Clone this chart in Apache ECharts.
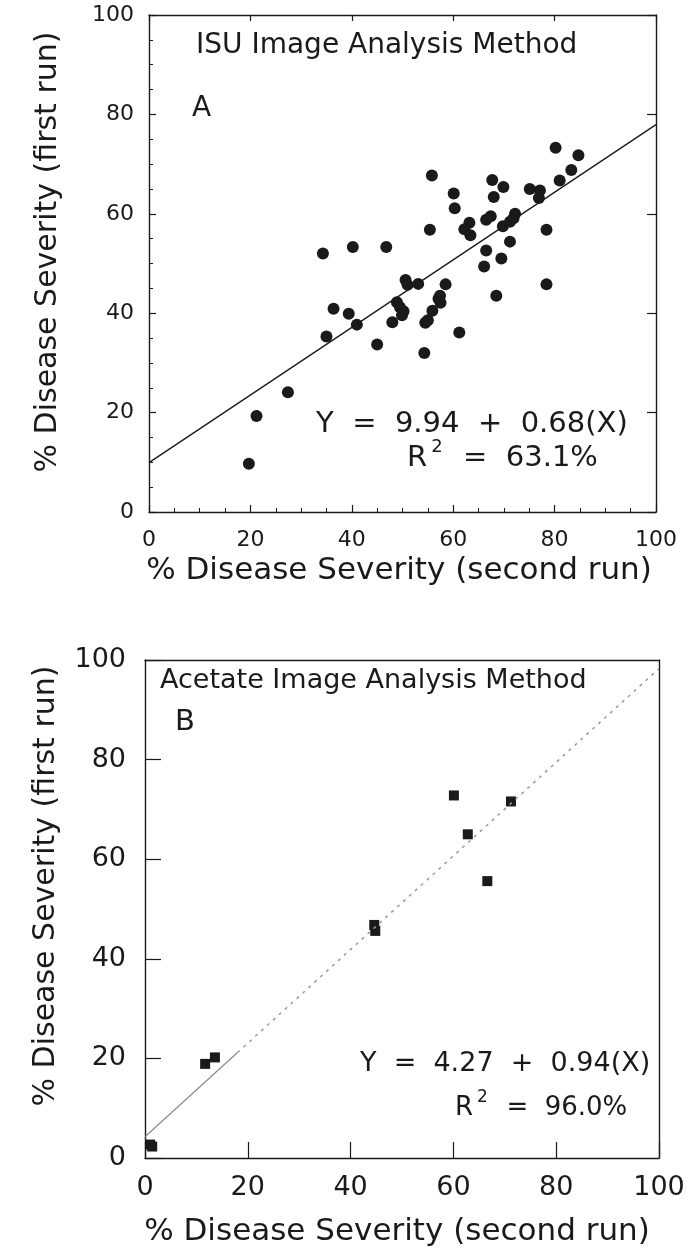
<!DOCTYPE html>
<html>
<head>
<meta charset="utf-8">
<script src="https://cdn.jsdelivr.net/npm/echarts@6/dist/echarts.min.js"></script>
<style>
  html, body { margin: 0; padding: 0; background: #fff; }
  #chart { width: 691px; height: 1259px; }
</style>
</head>
<body>
<div id="chart"></div>
<script>
// panel A: ISU image analysis, [second run, first run]
var isuPoints = [
  [19.7, 9.7], [21.2, 19.3], [27.4, 24.1], [34.3, 52.0], [35.0, 35.3],
  [36.4, 40.9], [39.4, 39.9], [40.2, 53.3], [41.0, 37.7], [45.0, 33.7],
  [46.8, 53.3], [48.0, 38.2], [48.9, 42.2], [49.5, 41.2], [49.9, 39.6],
  [50.2, 40.4], [50.6, 46.7], [51.0, 45.7], [53.1, 45.9], [54.3, 32.0],
  [54.5, 38.1], [55.0, 38.6], [55.4, 56.8], [55.8, 67.7], [55.9, 40.5],
  [57.1, 42.9], [57.4, 43.5], [57.5, 42.1], [58.5, 45.8], [60.1, 64.1],
  [60.3, 61.1], [61.2, 36.1], [62.2, 56.9], [63.2, 58.2], [63.4, 55.7],
  [66.1, 49.4], [66.5, 52.6], [66.5, 58.8], [67.4, 59.5], [67.7, 66.8],
  [68.0, 63.4], [68.5, 43.5], [69.5, 51.0], [69.8, 57.5], [69.9, 65.4],
  [71.2, 54.4], [71.2, 58.4], [71.9, 59.1], [72.2, 60.0], [75.1, 65.0],
  [77.1, 64.7], [76.9, 63.2], [78.4, 56.8], [78.4, 45.8], [80.2, 73.3],
  [81.0, 66.7], [83.3, 68.8], [84.7, 71.8]
];
var isuFit = [[0, 9.94], [100, 77.94]];

// panel B: acetate image analysis
var acetatePoints = [
  [1.0, 2.7], [1.4, 2.3], [11.7, 18.9], [13.6, 20.2], [44.6, 46.8],
  [44.8, 45.6], [60.1, 72.8], [62.8, 65.0], [66.6, 55.6], [71.2, 71.6]
];
var acetateFitSolid = [[0, 4.27], [18, 21.19]];
var acetateFitDotted = [[18, 21.19], [100, 98.27]];

var axisTicks = [0, 20, 40, 60, 80, 100];

var FONT = 'DejaVu Sans';
var INK = '#1a1a1a';

var myChart = echarts.init(document.getElementById('chart'));

function valAxis(grid, pos, opts) {
  var ax = {
    type: 'value',
    gridIndex: grid,
    position: pos,
    min: axisTicks[0],
    max: axisTicks[axisTicks.length - 1],
    interval: 20,
    splitLine: { show: false },
    axisLine: { show: true, onZero: false, lineStyle: { color: INK, width: 1.4 } },
    axisTick: { show: true, inside: true, length: opts.tick || 0, lineStyle: { color: INK, width: 1.2 } },
    axisLabel: opts.label ? {
      show: true, fontFamily: FONT, fontSize: opts.label, color: INK, margin: opts.margin
    } : { show: false }
  };
  if (opts.tick === 0) ax.axisTick.show = false;
  if (opts.minor) {
    ax.minorTick = { show: true, splitNumber: 4, length: opts.minor, lineStyle: { color: INK, width: 1 } };
  }
  return ax;
}

var option = {
  backgroundColor: '#fff',
  animation: false,
  grid: [
    { left: 149, top: 15, width: 507, height: 497 },
    { left: 145, top: 660, width: 514, height: 498 }
  ],
  xAxis: [
    valAxis(0, 'bottom', { tick: 7, minor: 4, label: 22, margin: 17 }),
    valAxis(0, 'top', { tick: 6 }),
    valAxis(1, 'bottom', { tick: 16, label: 27, margin: 16 }),
    valAxis(1, 'top', { tick: 0 })
  ],
  yAxis: [
    valAxis(0, 'left', { tick: 7, minor: 4, label: 22, margin: 15 }),
    valAxis(0, 'right', { tick: 9 }),
    valAxis(1, 'left', { tick: 16, label: 27, margin: 19 }),
    valAxis(1, 'right', { tick: 0 })
  ],
  series: [
    {
      type: 'line', xAxisIndex: 0, yAxisIndex: 0, data: isuFit,
      showSymbol: false, lineStyle: { color: INK, width: 1.4 }
    },
    {
      type: 'scatter', xAxisIndex: 0, yAxisIndex: 0, data: isuPoints,
      symbol: 'circle', symbolSize: 12, itemStyle: { color: INK, opacity: 1 }
    },
    {
      type: 'line', xAxisIndex: 2, yAxisIndex: 2, data: acetateFitSolid,
      showSymbol: false, lineStyle: { color: '#8a8a8a', width: 1.2 }
    },
    {
      type: 'line', xAxisIndex: 2, yAxisIndex: 2, data: acetateFitDotted,
      showSymbol: false, lineStyle: { color: '#999999', width: 1.5, type: [3, 5] }
    },
    {
      type: 'scatter', xAxisIndex: 2, yAxisIndex: 2, data: acetatePoints,
      symbol: 'rect', symbolSize: 10, itemStyle: { color: INK, opacity: 1 }
    }
  ],
  graphic: [
    // axis names
    { type: 'text', x: 399, y: 571, style: { text: '% Disease Severity (second run)', font: '31px "DejaVu Sans"', fill: INK, align: 'center', verticalAlign: 'middle' } },
    { type: 'text', x: 48, y: 252, rotation: Math.PI / 2, style: { text: '% Disease Severity (first run)', font: '30px "DejaVu Sans"', fill: INK, align: 'center', verticalAlign: 'middle' } },
    { type: 'text', x: 397, y: 1232, style: { text: '% Disease Severity (second run)', font: '31px "DejaVu Sans"', fill: INK, align: 'center', verticalAlign: 'middle' } },
    { type: 'text', x: 46, y: 886, rotation: Math.PI / 2, style: { text: '% Disease Severity (first run)', font: '30px "DejaVu Sans"', fill: INK, align: 'center', verticalAlign: 'middle' } },
    // panel A annotations
    { type: 'text', x: 196, y: 46, style: { text: 'ISU Image Analysis Method', font: '28px "DejaVu Sans"', fill: INK, align: 'left', verticalAlign: 'middle' } },
    { type: 'text', x: 192, y: 109, style: { text: 'A', font: '28px "DejaVu Sans"', fill: INK, align: 'left', verticalAlign: 'middle' } },
    { type: 'text', x: 316, y: 424, style: { text: 'Y  =  9.94  +  0.68(X)', font: '29px "DejaVu Sans"', fill: INK, align: 'left', verticalAlign: 'middle' } },
    { type: 'text', x: 407, y: 458, style: {
        text: '{r|R}{s|2}{r|  =  63.1%}', fill: INK, align: 'left', verticalAlign: 'middle',
        rich: { r: { fontFamily: FONT, fontSize: 29, fill: INK }, s: { fontFamily: FONT, fontSize: 18, fill: INK, padding: [0, 2, 22, 4] } }
    } },
    // panel B annotations
    { type: 'text', x: 160, y: 681, style: { text: 'Acetate Image Analysis Method', font: '27px "DejaVu Sans"', fill: INK, align: 'left', verticalAlign: 'middle' } },
    { type: 'text', x: 175, y: 722, style: { text: 'B', font: '29px "DejaVu Sans"', fill: INK, align: 'left', verticalAlign: 'middle' } },
    { type: 'text', x: 360, y: 1064, style: { text: 'Y  =  4.27  +  0.94(X)', font: '27px "DejaVu Sans"', fill: INK, align: 'left', verticalAlign: 'middle' } },
    { type: 'text', x: 455, y: 1108, style: {
        text: '{r|R}{s|2}{r|  =  96.0%}', fill: INK, align: 'left', verticalAlign: 'middle',
        rich: { r: { fontFamily: FONT, fontSize: 26, fill: INK }, s: { fontFamily: FONT, fontSize: 17, fill: INK, padding: [0, 2, 20, 4] } }
    } }
  ]
};

myChart.setOption(option);

window.addEventListener('resize', function() {
  myChart.resize();
});
</script>
</body>
</html>
